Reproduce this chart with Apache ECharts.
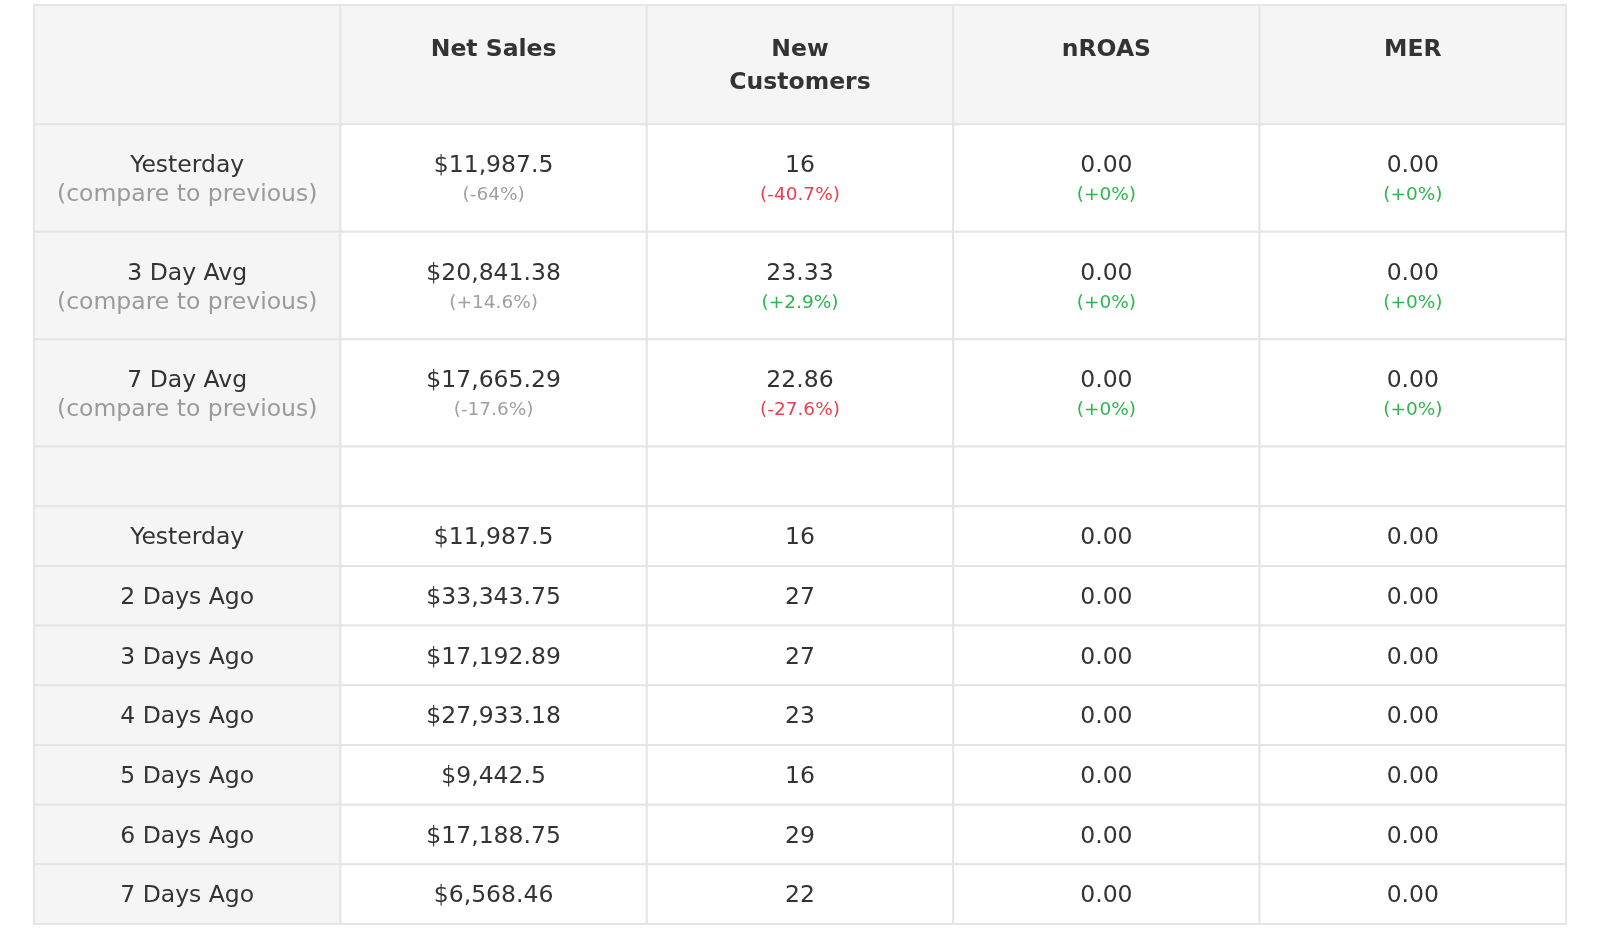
<!DOCTYPE html>
<html><head><meta charset="utf-8">
<script src="https://cdn.jsdelivr.net/npm/echarts@6/dist/echarts.min.js"></script>
<style>html,body{margin:0;padding:0;background:#fff}#c{width:1600px;height:934px}</style>
</head><body><div id="c"></div>
<script>
const columns = ['', 'Net Sales', 'New\nCustomers', 'nROAS', 'MER'];
const summaryLabels = ['Yesterday', '3 Day Avg', '7 Day Avg'];
const summaryNetSales = ['$11,987.5', '$20,841.38', '$17,665.29'];
const summaryNetSalesChange = ['(-64%)', '(+14.6%)', '(-17.6%)'];
const summaryNewCustomers = ['16', '23.33', '22.86'];
const summaryNewCustomersChange = ['(-40.7%)', '(+2.9%)', '(-27.6%)'];
const summaryNroas = ['0.00', '0.00', '0.00'];
const summaryNroasChange = ['(+0%)', '(+0%)', '(+0%)'];
const summaryMer = ['0.00', '0.00', '0.00'];
const summaryMerChange = ['(+0%)', '(+0%)', '(+0%)'];
const dailyLabels = ['Yesterday', '2 Days Ago', '3 Days Ago', '4 Days Ago', '5 Days Ago', '6 Days Ago', '7 Days Ago'];
const dailyNetSales = ['$11,987.5', '$33,343.75', '$17,192.89', '$27,933.18', '$9,442.5', '$17,188.75', '$6,568.46'];
const dailyNewCustomers = ['16', '27', '27', '23', '16', '29', '22'];
const dailyNroas = ['0.00', '0.00', '0.00', '0.00', '0.00', '0.00', '0.00'];
const dailyMer = ['0.00', '0.00', '0.00', '0.00', '0.00', '0.00', '0.00'];

const rowKinds = ['header', 'summary', 'summary', 'summary', 'spacer', 'daily', 'daily', 'daily', 'daily', 'daily', 'daily', 'daily'];
const rowH = {header: 2, summary: 1.8, spacer: 1, daily: 1};
const rowStart = []; let acc = 0;
rowKinds.forEach(k => { rowStart.push(acc); acc += rowH[k]; });
const total = acc;

function changeColor(col, s) {
  if (col === 1) return '#a0a0a0';
  return s.indexOf('-') >= 0 ? '#e8424e' : '#2fb550';
}

const cells = [];
for (let r = 0; r < rowKinds.length; r++) {
  for (let c = 0; c < 5; c++) {
    const k = rowKinds[r];
    let main = '', sub = '', subColor = '#999';
    if (k === 'header') main = columns[c];
    else if (k === 'summary') {
      const i = r - 1;
      if (c === 0) { main = summaryLabels[i]; sub = '(compare to previous)'; subColor = '#9a9a9a'; }
      else {
        main = [null, summaryNetSales, summaryNewCustomers, summaryNroas, summaryMer][c][i];
        sub = [null, summaryNetSalesChange, summaryNewCustomersChange, summaryNroasChange, summaryMerChange][c][i];
        subColor = changeColor(c, sub);
      }
    } else if (k === 'daily') {
      const i = r - 5;
      main = [dailyLabels, dailyNetSales, dailyNewCustomers, dailyNroas, dailyMer][c][i];
    }
    cells.push({value: [c, r], main, sub, subColor, kind: k});
  }
}

const chart = echarts.init(document.getElementById('c'));
chart.setOption({
  animation: false,
  grid: {left: 34, right: 34, top: 5, bottom: 10},
  xAxis: {type: 'category', data: columns, show: false},
  yAxis: {type: 'value', min: 0, max: total, inverse: true, show: false},
  series: [{
    type: 'custom',
    data: cells,
    renderItem: function (params, api) {
      const c = api.value(0), r = api.value(1);
      const cell = cells[params.dataIndex];
      const w = api.size([1, 0])[0];
      const cx = api.coord([c, 0])[0];
      const y0 = api.coord([0, rowStart[r]])[1];
      const y1 = api.coord([0, rowStart[r] + rowH[cell.kind]])[1];
      const bg = (r === 0 || c === 0) ? '#f5f5f5' : '#ffffff';
      const children = [{
        type: 'rect',
        shape: {x: cx - w / 2, y: y0, width: w, height: y1 - y0},
        style: {fill: bg, stroke: '#e5e5e5', lineWidth: 2}
      }];
      const ff = 'DejaVu Sans';
      if (cell.kind === 'header' && cell.main) {
        children.push({type: 'text', style: {text: cell.main, x: cx, y: y0 + 28, align: 'center', verticalAlign: 'top',
          fill: '#333', font: 'bold 23.5px "' + ff + '"', lineHeight: 33}});
      } else if (cell.kind === 'summary') {
        children.push({type: 'text', style: {text: cell.main, x: cx, y: y0 + 42, align: 'center', verticalAlign: 'middle',
          fill: '#333', font: '23.5px "' + ff + '"'}});
        children.push({type: 'text', style: {text: cell.sub, x: cx, y: y0 + 71, align: 'center', verticalAlign: 'middle',
          fill: cell.subColor, font: (c === 0 ? '23.5px' : '18.5px') + ' "' + ff + '"'}});
      } else if (cell.kind === 'daily') {
        children.push({type: 'text', style: {text: cell.main, x: cx, y: (y0 + y1) / 2 + 2, align: 'center', verticalAlign: 'middle',
          fill: '#333', font: '23.5px "' + ff + '"'}});
      }
      return {type: 'group', children};
    }
  }]
});
</script></body></html>
